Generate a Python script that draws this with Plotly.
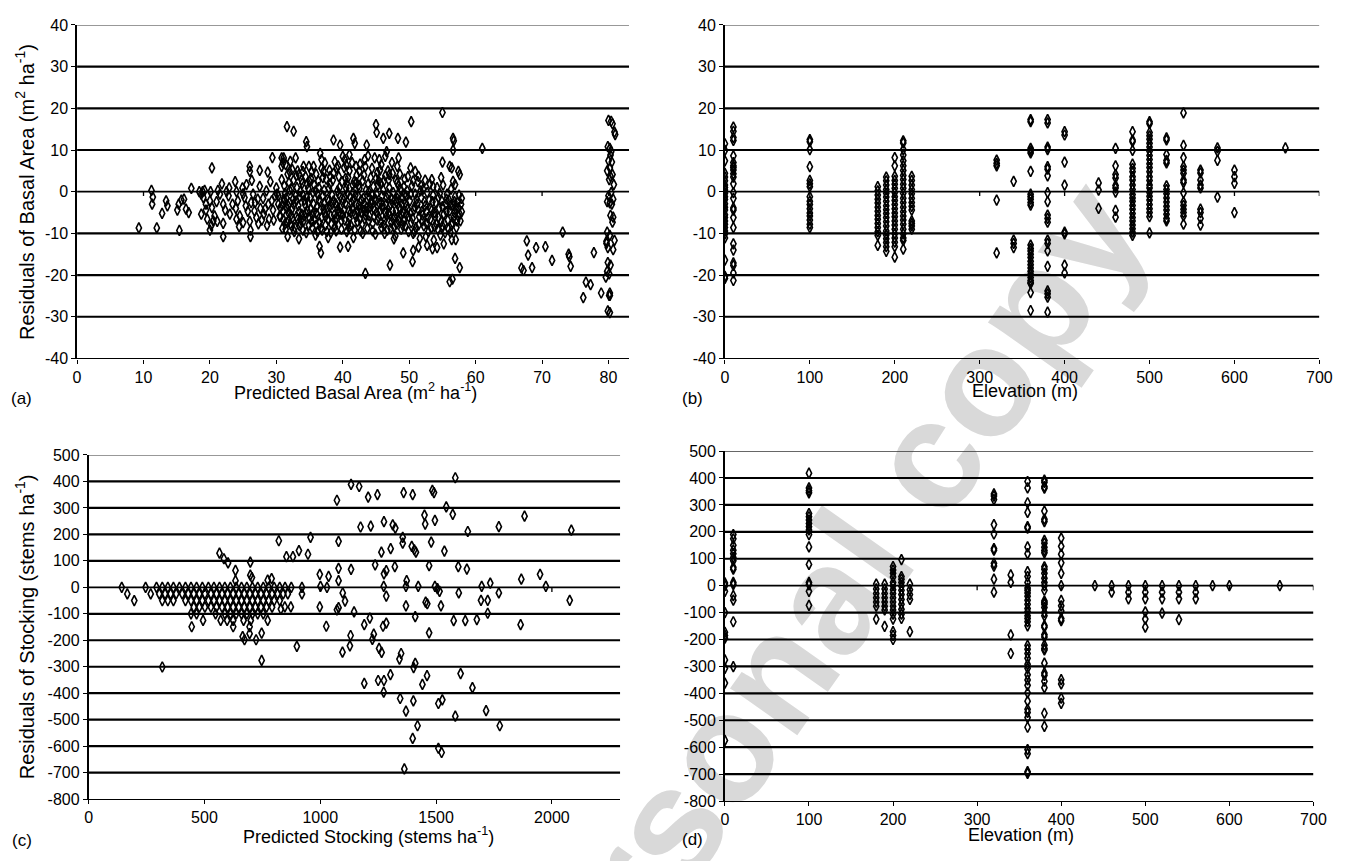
import math
import plotly.graph_objects as go

W, H = 1363, 861

# ---------------- Panel (a): predicted basal area vs residual ----------------
a_points = [
    (9.3,-8.7),(11.2,0.3),(11.4,-1.3),(11.3,-3.0),(12.0,-8.7),(12.8,-5.2),(13.4,-2.2),(13.6,-3.4),
    (15.1,-4.4),(15.3,-3.0),(15.7,-2.0),(16.1,-1.8),(16.4,-4.2),(16.8,-5.0),(15.4,-9.3),(17.2,0.8),
    (18.4,0.0),(18.7,-0.6),(19.0,-1.4),(19.4,-3.0),(18.7,-5.4),(19.4,-4.4),(20.0,-2.2),(20.1,0.0),
    (20.3,-3.8),(20.7,-5.8),(21.0,-2.4),(21.2,0.3),(21.5,-0.6),(21.8,1.9),(22.0,-3.0),(22.3,-4.4),
    (22.5,0.0),(22.8,-1.0),(22.9,0.9),(21.1,-7.1),(20.5,-7.0),(20.2,-8.1),(20.0,-9.2),(19.6,-6.6),
    (22.0,-7.6),(22.0,-10.8),(20.3,5.7),(18.9,0.0),(19.2,0.3),
    (23.8,2.4),(24.0,0.0),(24.2,-2.2),(23.9,-4.0),(24.5,-5.8),(24.4,-8.4),(24.9,0.9),(25.2,-1.4),
    (25.4,-3.4),(25.7,-4.7),(26.0,-7.1),(26.1,-9.2),(26.1,-10.8),(26.3,2.7),(26.5,-0.6),(26.8,-2.6),
    (27.0,-6.2),(27.3,-7.7),(27.5,1.3),(27.6,-4.0),(28.0,-1.6),(28.1,-5.4),(28.5,0.2),(28.8,-3.0),
    (28.9,-6.6),(29.1,2.4),(29.5,-4.4),(29.8,-1.0),(30.0,0.9),(30.3,-3.0),(30.5,-5.8),(30.8,2.9),
    (31.1,-1.8),(31.3,-7.7),(31.6,-4.0),
    (26.0,6.1),(26.0,4.9),(27.5,5.1),(28.7,4.7),(29.4,8.2),(30.8,8.1),(30.8,6.1),(31.0,6.9),
    (25.0,-0.5),(25.5,1.7),(26.2,-2.6),(26.7,-4.6),(27.2,-1.8),(27.8,-6.8),(28.3,-4.2),(28.6,-8.1),
    (29.3,-2.2),(29.6,-6.8),(30.1,-0.6),(30.6,-3.8),(25.0,-7.4),(24.0,-6.6),(23.4,-3.0),(23.0,-5.4),
    (30.9,-3.2),(31.1,-6.8),(31.2,1.4),(31.4,-9.0),(31.5,-1.5),(31.7,4.2),(31.8,-5.0),(32.0,-2.6),
    (32.1,-7.8),(32.3,0.6),(32.4,-4.0),(32.6,2.8),(32.7,-9.6),(32.9,-1.0),(33.0,-6.0),(33.2,5.0),
    (33.3,-3.4),(33.5,-8.2),(33.6,0.0),(33.8,-5.4),(33.9,2.0),(34.1,-7.0),(34.2,-2.0),(34.4,3.6),
    (34.5,-9.8),(34.7,-4.6),(34.8,0.8),(35.0,-6.4),(35.1,-1.4),(35.3,4.8),(35.4,-8.6),(35.6,-3.0),
    (35.7,1.6),(35.9,-10.4),(36.0,-5.2),(36.2,-0.6),(36.3,2.6),(36.5,-7.4),(36.6,-2.4),(36.8,5.6),
    (36.9,-9.2),(37.1,-4.2),(37.2,0.4),(37.4,-6.0),(37.5,3.0),(37.7,-1.8),(37.8,-11.0),(38.0,-3.6),
    (38.1,1.8),(38.3,-7.8),(38.4,-0.8),(38.6,4.4),(38.7,-5.6),(38.9,-2.8),(39.0,-9.4),(39.2,0.2),
    (39.3,6.2),(39.5,-4.8),(39.6,-1.2),(39.8,-7.0),(39.9,2.4),
    (31.0,-4.6),(31.3,-0.4),(31.6,-7.4),(31.9,2.2),(32.2,-5.6),(32.5,-1.8),(32.8,-8.6),(33.1,1.0),
    (33.4,-4.8),(33.7,-6.8),(34.0,-0.8),(34.3,-3.0),(34.6,1.8),(34.9,-8.0),(35.2,-4.2),(35.5,-0.2),
    (35.8,-6.6),(36.1,-3.6),(36.4,1.0),(36.7,-8.8),(37.0,-1.0),(37.3,-5.0),(37.6,-9.6),(37.9,-2.2),
    (38.2,-5.8),(38.5,2.8),(38.8,-8.4),(39.1,-3.4),(39.4,-0.6),(39.7,-5.4),
    (31.2,-2.0),(31.8,-3.4),(32.4,-6.4),(33.0,-2.2),(33.6,-7.6),(34.2,-5.8),(34.8,-2.6),(35.4,-5.6),
    (36.0,-8.0),(36.6,-4.4),(37.2,-2.8),(37.8,-6.6),(38.4,-3.0),(39.0,-6.2),(39.6,-3.8),
    (40.1,-2.0),(40.3,-6.8),(40.4,3.2),(40.6,-9.6),(40.7,-0.4),(40.9,-4.6),(41.0,5.0),(41.2,-8.0),
    (41.3,-2.6),(41.5,1.6),(41.6,-11.0),(41.8,-5.4),(41.9,-0.8),(42.1,4.0),(42.2,-7.2),(42.4,-3.2),
    (42.5,0.8),(42.7,-9.4),(42.8,-5.0),(43.0,2.6),(43.1,-1.6),(43.3,-6.6),(43.4,6.0),(43.6,-3.8),
    (43.7,-8.8),(43.9,0.0),(44.0,-5.8),(44.2,3.4),(44.3,-2.2),(44.5,-7.6),(44.6,1.2),(44.8,-4.4),
    (44.9,-10.2),(45.1,-0.6),(45.2,4.6),(45.4,-6.2),(45.5,-2.8),(45.7,2.0),(45.8,-8.6),(46.0,-4.0),
    (46.1,0.4),(46.3,-6.8),(46.4,3.8),(46.6,-1.4),(46.7,-9.2),(46.9,-5.2),(47.0,1.0),(47.2,-3.0),
    (47.3,-7.4),(47.5,4.4),(47.6,-0.2),(47.8,-5.8),(47.9,-10.6),(48.1,-2.4),(48.2,2.2),(48.4,-7.0),
    (48.5,-3.8),(48.7,0.6),(48.8,-9.0),(49.0,-1.6),(49.1,-5.0),(49.3,3.0),(49.4,-8.2),(49.6,-3.4),
    (49.7,0.2),(49.9,-6.0),
    (40.2,-4.4),(40.5,0.8),(40.8,-7.6),(41.1,-1.2),(41.4,-4.0),(41.7,2.4),(42.0,-6.0),(42.3,-1.0),
    (42.6,-4.2),(42.9,-7.8),(43.2,-2.8),(43.5,-4.8),(43.8,1.8),(44.1,-3.6),(44.4,-0.8),(44.7,-6.0),
    (45.0,-2.0),(45.3,1.6),(45.6,-4.6),(45.9,-1.0),(46.2,-8.0),(46.5,-3.0),(46.8,-0.6),(47.1,-5.6),
    (47.4,-1.8),(47.7,-8.4),(48.0,-4.6),(48.3,-0.6),(48.6,-6.2),(48.9,-3.0),(49.2,-7.0),(49.5,-1.0),
    (49.8,-4.2),
    (40.4,-2.8),(41.0,-6.4),(41.6,-2.0),(42.2,-4.8),(42.8,-2.0),(43.4,-5.6),(44.0,-1.4),(44.6,-4.0),
    (45.2,-6.8),(45.8,-2.6),(46.4,-5.0),(47.0,-3.6),(47.6,-6.6),(48.2,-1.6),(48.8,-5.4),(49.4,-2.6),
    (50.1,-2.2),(50.3,-7.4),(50.4,1.4),(50.6,-10.0),(50.7,-4.4),(50.9,-0.6),(51.0,-8.6),(51.2,-3.0),
    (51.3,2.4),(51.5,-6.0),(51.6,-11.2),(51.8,-1.4),(51.9,-4.8),(52.1,0.6),(52.2,-8.2),(52.4,-3.4),
    (52.5,-10.8),(52.7,-0.2),(52.8,-6.2),(53.0,-2.0),(53.1,1.8),(53.3,-8.8),(53.4,-4.4),(53.6,-0.8),
    (53.7,-11.6),(53.9,-6.0),(54.0,-2.6),(54.2,1.0),(54.3,-9.0),(54.5,-4.0),(54.6,-0.4),(54.8,-7.2),
    (54.9,-2.2),(55.1,1.6),(55.2,-5.4),(55.4,-9.8),(55.5,-3.0),(55.7,-0.6),(55.8,-6.8),(56.0,-2.0),
    (56.1,-4.6),(56.3,0.6),(56.4,-8.0),(56.6,-3.4),(56.7,-6.2),(56.9,-1.2),(57.0,-4.0),(57.2,-7.0),
    (57.3,-2.6),(57.5,-0.8),(57.6,-5.4),(57.8,-3.0),(57.9,-1.6),
    (50.2,-5.2),(50.8,-3.6),(51.4,-8.0),(52.0,-5.6),(52.6,-7.6),(53.2,-4.0),(53.8,-8.4),(54.4,-6.2),
    (55.0,-8.2),(55.6,-4.8),(56.2,-9.8),(56.8,-5.0),(57.4,-6.0),
    (30.3,-1.0),(30.6,-6.0),(30.9,-8.8),(31.5,-3.8),(32.0,0.4),(32.3,-8.2),(32.6,-3.0),(33.2,-6.6),
    (33.5,-1.2),(33.8,2.8),(34.0,-9.2),(34.4,-5.0),(34.6,-1.4),(35.0,2.4),(35.3,-7.2),(35.6,-5.0),
    (35.9,0.2),(36.2,-9.6),(36.4,-2.0),(36.8,-6.2),(37.0,3.4),(37.4,-8.0),(37.6,-4.0),(37.9,0.8),
    (38.2,-9.8),(38.6,-2.2),(38.9,-7.0),(39.2,-4.4),(39.5,1.0),(39.8,-9.0),(40.0,-5.6),(40.3,-1.4),
    (40.6,2.0),(40.9,-8.6),(41.2,-5.0),(41.5,-0.2),(41.8,-9.2),(42.0,-3.0),(42.4,1.6),(42.6,-6.6),
    (43.0,-10.0),(43.2,-4.4),(43.5,0.4),(43.9,-7.0),(44.2,-2.6),(44.5,-9.4),(44.8,-1.6),(45.1,-5.0),
    (45.4,2.6),(45.7,-7.4),(46.0,-3.2),(46.3,-10.0),(46.6,-5.8),(46.9,2.8),(47.2,-8.8),(47.5,-4.6),
    (47.8,-2.0),(48.1,-7.8),(48.4,1.4),(48.7,-4.2),(49.0,-8.0),(49.3,-0.6),(49.6,-5.4),(49.9,-9.6),
    (50.2,-0.6),(50.5,-6.4),(50.8,-9.6),(51.1,-1.8),(51.4,-4.4),(51.7,0.2),(52.0,-7.0),(52.3,-2.4),
    (52.6,-4.8),(52.9,-9.6),(53.2,-6.6),(53.5,-2.4),(53.8,-5.0),(54.1,-7.8),(54.4,-1.4),(54.7,-10.4),
    (55.0,-3.6),(55.3,-7.6),(55.6,-1.8),(55.9,-9.0),(56.2,-3.2),(56.5,-7.4),(56.8,-2.4),(57.1,-8.6),
    (57.4,-3.8),(57.7,-7.0),(57.9,-4.8),
    (38.0,5.2),(38.8,7.2),(39.4,3.6),(40.2,5.8),(40.8,3.4),(41.4,7.0),(42.0,2.2),(42.6,6.6),
    (43.2,4.0),(43.8,8.6),(44.4,5.6),(45.0,3.2),(45.6,5.2),(46.2,2.6),(46.8,5.0),(47.4,7.0),
    (48.0,2.8),(48.6,4.2),(49.2,1.2),(49.8,3.6),(50.6,2.6),(51.8,1.4),(52.4,2.8),(53.6,1.2),
    (54.8,3.4),(35.2,3.2),(36.0,4.2),(34.0,4.8),(33.0,3.8),(32.0,4.8),
    (31.6,15.6),(32.6,14.5),(34.5,12.0),(34.6,10.8),(38.6,12.4),(39.6,11.2),(41.6,12.8),(41.8,11.6),
    (43.6,11.2),(45.0,16.1),(45.1,14.2),(46.1,12.8),(47.0,14.0),(48.3,12.8),(49.5,11.9),(50.3,16.8),
    (55.0,19.0),(56.6,12.8),(56.7,12.2),(56.6,10.0),(61.0,10.4),
    (31.7,-10.8),(33.4,-11.3),(36.5,-13.1),(36.7,-14.7),(39.6,-13.3),(40.8,-13.1),(43.4,-19.6),
    (47.1,-17.6),(47.7,-11.3),(49.1,-14.7),(50.5,-16.8),(50.6,-14.1),(51.4,-13.3),(52.7,-12.9),
    (53.5,-13.7),(54.2,-13.4),(55.2,-12.5),(56.4,-11.5),(57.0,-11.5),(56.9,-16.0),(57.6,-18.2),
    (56.1,-21.6),(56.5,-21.0),
    (31.1,8.1),(31.4,6.5),(32.1,7.3),(32.9,8.1),(32.4,5.3),(33.4,4.1),(34.1,6.1),(34.9,6.1),
    (35.6,6.1),(36.6,9.2),(36.8,7.7),(37.3,6.9),(37.1,4.9),(38.1,3.7),(39.1,5.7),(40.0,8.5),
    (40.3,7.7),(40.5,6.5),(41.0,8.9),(42.0,6.1),(42.5,4.9),(43.3,7.7),(44.8,8.1),(45.5,7.7),
    (46.4,8.5),(45.8,6.5),(46.6,9.6),(47.0,4.1),(48.2,6.1),(48.4,8.1),(50.2,5.7),(50.9,4.9),
    (51.4,3.7),(53.4,2.9),(55.0,7.1),(56.1,6.1),(56.4,5.7),(57.4,4.9),(57.6,4.1),(56.6,2.5),(56.9,1.7),
    (67.7,-11.8),(67.9,-15.2),(69.1,-13.4),(70.5,-13.2),(66.9,-18.3),(67.2,-18.9),(68.5,-18.2),
    (71.5,-16.5),(73.1,-9.7),(74.0,-15.0),(74.1,-15.6),(74.3,-17.9),(77.8,-14.6),(76.6,-21.7),
    (77.3,-22.3),(76.2,-25.4),(78.9,-24.3),(80.1,-24.9),(80.2,-24.3),(79.7,-11.9),
    (80.0,17.1),(80.4,16.9),(80.6,16.3),(80.9,14.3),(81.0,13.7),(79.9,10.8),(80.2,10.4),(80.4,9.6),
    (80.3,8.8),(80.0,7.4),(80.5,7.1),(80.2,5.7),(79.8,5.0),(80.6,4.1),(80.3,3.7),(80.1,2.9),
    (80.8,1.7),(80.4,-0.2),(80.0,-1.0),(80.7,-1.8),(79.8,-2.4),(80.2,-2.7),(80.5,-3.0),(80.3,-5.7),
    (80.7,-6.1),(80.6,-7.3),(79.8,-9.7),(80.2,-10.5),(80.9,-11.7),(79.7,-12.4),(79.9,-13.4),
    (80.7,-13.9),(79.9,-17.0),(80.3,-17.6),(79.8,-19.1),(80.1,-19.7),(79.6,-20.5),(80.2,-24.9),
    (79.9,-28.6),(80.2,-29.0),
]

# ---------------- Panel (b): elevation vs basal-area residual ----------------
b_elevation = [0, 10, 100, 180, 190, 200, 210, 220, 320, 340, 360, 380, 400, 440, 460,
               480, 500, 520, 540, 560, 580, 600, 660]
b_residuals = [
    [11.5, 9.9, 7.4, 4.4, 3.5, 2.6, 1.6, 1.0, 0.4, -0.4, -1.2, -1.9, -2.9, -3.7, -4.4, -5.5,
     -6.2, -7.0, -7.8, -8.6, -9.4, -10.1, -11.1, -16.4, -20.3, -20.8],
    [15.5, 14.5, 13.0, 12.3, 8.6, 7.0, 6.2, 5.8, 5.2, 4.3, 3.5, 1.9, -0.2, -1.6, -3.9, -4.4,
     -6.2, -8.6, -12.5, -14.0, -17.1, -17.7, -19.5, -21.3],
    [12.5, 12.0, 10.1, 6.0, 2.7, 1.9, 1.2, -1.2, -2.3, -3.1, -4.1, -5.1, -5.8, -6.8, -7.8, -8.6],
    [1.2, 0.2, -0.8, -1.8, -2.7, -3.7, -4.7, -5.7, -6.6, -7.6, -8.6, -9.6, -10.5, -12.9],
    [3.5, 2.6, 1.6, 0.5, -0.4, -1.3, -2.3, -3.4, -4.3, -5.2, -6.2, -7.2, -8.2, -9.4, -10.4,
     -11.3, -12.2, -13.2, -14.3],
    [8.2, 6.2, 3.7, 2.7, 1.8, 0.8, -0.2, -1.2, -2.1, -3.1, -4.1, -5.1, -6.0, -7.0, -8.0, -9.0,
     -10.1, -11.1, -12.1, -13.2, -15.7],
    [12.2, 11.7, 10.1, 8.8, 7.4, 6.2, 5.1, 3.9, 2.9, 1.8, 0.8, -0.4, -1.6, -2.6, -3.7, -4.8,
     -5.8, -6.8, -7.8, -9.0, -10.1, -11.1, -11.7, -13.8],
    [3.7, 2.7, 1.6, 0.5, -0.5, -1.6, -2.6, -3.5, -4.4, -7.0, -7.6, -8.2, -9.0],
    [7.6, 6.8, 6.2, -2.0, -14.7],
    [2.5, -11.6, -12.4, -13.4],
    [17.3, 16.8, 10.4, 9.8, 9.3, 4.9, -0.6, -1.2, -1.8, -2.6, -3.2, -12.8, -13.6, -14.2, -15.0,
     -15.8, -16.7, -17.5, -18.3, -19.1, -19.8, -20.6, -21.3, -21.8, -22.0, -24.2, -28.5],
    [17.3, 16.5, 10.7, 10.1, 6.0, 5.4, 3.8, -0.2, -2.4, -5.6, -6.4, -7.3, -11.6, -12.4, -14.2,
     -17.9, -23.8, -24.5, -25.3, -28.9],
    [14.4, 13.6, 7.1, 1.6, -9.7, -10.1, -17.6, -19.5],
    [2.1, 0.4, -4.0],
    [10.4, 6.2, 4.1, 3.3, 1.5, 0.9, -0.1, -4.5, -6.1],
    [14.4, 12.4, 12.0, 9.9, 6.6, 5.6, 4.8, 3.6, 2.8, 1.6, 0.5, -0.7, -1.5, -2.3, -3.3, -4.2,
     -5.2, -6.2, -7.0, -8.0, -8.9, -9.7, -10.5],
    [16.8, 16.3, 14.2, 13.4, 12.6, 11.6, 10.7, 9.7, 8.7, 7.7, 6.7, 5.8, 4.8, 3.6, 2.7, 1.6,
     0.9, -0.2, -1.1, -2.0, -3.1, -4.1, -5.0, -6.0, -9.9],
    [12.9, 12.4, 8.9, 7.5, 6.9, 1.4, 0.5, -0.5, -1.5, -2.5, -3.5, -4.4, -5.4, -6.4, -7.0],
    [18.9, 11.1, 8.2, 6.0, 5.2, 4.4, 2.8, 2.2, -0.3, -2.5, -3.3, -4.2, -5.0, -5.8, -7.8],
    [5.2, 4.5, 2.8, 1.6, 0.9, -4.2, -5.0, -6.4, -8.0],
    [10.5, 9.7, 7.5, -1.3],
    [5.2, 3.6, 2.0, -5.0],
    [10.5],
]

# ---------------- Panel (c): predicted stocking vs residual ----------------
c_points = [
    (143,0),(246,0),(293,0),(318,0),(342,0),(366,0),(392,0),(418,0),(442,0),(466,0),(491,0),
    (517,0),(541,0),(565,0),(588,0),(612,0),(637,0),(660,0),(683,0),(707,0),(730,0),(754,0),
    (777,0),(801,0),(825,0),(848,0),(875,0),(921,0),
    (167,-25),(268,-25),(305,-25),(330,-25),(354,-25),(378,-25),(404,-25),(430,-25),(454,-25),
    (478,-25),(502,-25),(528,-25),(552,-25),(576,-25),(600,-25),(624,-25),(648,-25),(672,-25),
    (696,-25),(720,-25),(744,-25),(768,-25),(792,-25),(816,-25),(840,-25),(860,-25),
    (197,-50),(318,-50),(342,-50),(366,-50),(418,-50),(442,-50),(466,-50),(491,-50),(517,-50),
    (541,-50),(565,-50),(588,-50),(612,-50),(637,-50),(660,-50),(683,-50),(707,-50),(730,-50),
    (754,-50),(777,-50),(801,-50),(825,-50),
    (454,-75),(478,-75),(502,-75),(528,-75),(552,-75),(576,-75),(600,-75),(624,-75),(648,-75),
    (672,-75),(696,-75),(720,-75),(744,-75),(768,-75),(792,-75),
    (442,-100),(466,-100),(548,-100),(588,-100),(612,-100),(637,-100),(660,-100),(683,-100),
    (707,-100),(730,-100),(754,-100),
    (494,-125),(570,-125),(598,-125),(624,-125),(669,-125),(700,-125),(773,-125),
    (445,-149),(624,-149),(695,-149),
    (634,25),(773,27),(790,33),
    (565,129),(584,108),(602,92),(634,64),(698,95),(698,46),(705,37),(821,176),(854,116),
    (882,116),(908,139),(830,-82),(847,-74),(873,-74),(921,-25),(695,-175),(747,-173),
    (665,-186),(673,-198),(723,-198),(747,-276),(318,-301),(899,-223),
    (1583,414),(1133,389),(1168,381),(1072,329),(1207,341),(1247,350),(1360,358),(1399,350),
    (1484,366),(1491,358),(1544,304),(1572,276),(1882,269),(1450,273),(1453,239),(1495,253),
    (1174,228),(1218,231),(1275,248),(1313,236),(1324,224),(1637,211),(1771,229),(2084,216),
    (1356,189),(958,189),(1356,167),(1395,155),(1406,142),(1413,133),(1479,171),(1536,137),
    (1079,174),(1264,133),(1304,146),(947,125),(1237,85),(1275,51),(1285,63),(1322,78),
    (1470,82),(1596,78),(1633,69),(998,49),(1036,41),(1079,72),(1133,68),(1079,25),(1373,25),
    (1868,31),(1949,49),(1734,16),(1001,4),(1029,0),(1274,4),(1370,4),(1423,4),(1495,4),
    (1697,4),(1974,4),(1097,-21),(1285,-33),(1515,-15),(1506,-5),(1598,-21),(1771,-21),
    (1107,-52),(998,-74),(1072,-85),(1079,-77),(1146,-93),(1370,-70),(1455,-56),(1462,-62),
    (1521,-70),(1694,-49),(1723,-49),(2077,-49),(1026,-147),(1190,-141),(1214,-116),
    (1271,-147),(1285,-135),(1410,-111),(1576,-126),(1626,-126),(1676,-122),(1723,-98),
    (1865,-141),(1470,-172),(1131,-182),(1128,-221),(1096,-245),(1231,-177),(1225,-197),
    (1254,-231),(1265,-246),(1349,-250),(1342,-271),(1410,-287),(1403,-303),(1190,-363),
    (1250,-352),(1275,-352),(1303,-330),(1441,-367),(1461,-334),(1606,-326),(1657,-379),
    (1274,-396),(1345,-420),(1402,-429),(1510,-439),(1527,-425),(1370,-468),(1716,-466),
    (1583,-487),(1775,-523),(1420,-523),(1399,-571),(1510,-608),(1524,-624),(1363,-686),
]

# ---------------- Panel (d): elevation vs stocking residual ----------------
d_elevation = [0, 10, 100, 180, 190, 200, 210, 220, 320, 340, 360, 380, 400, 440, 460,
               480, 500, 520, 540, 560, 580, 600, 660]
d_residuals = [
    [10, 0, -21, -100, -173, -185, -195, -276, -307, -362, -575],
    [190, 174, 150, 132, 119, 105, 93, 68, 61, 12, 4, -37, -54, -134, -301],
    [418, 363, 353, 345, 268, 256, 244, 231, 219, 207, 190, 144, 79, 12, 4, -21, -73],
    [6, -12, -29, -45, -61, -76, -124],
    [6, -12, -29, -45, -61, -76, -90, -151],
    [71, 58, 46, 32, 12, 0, -15, -29, -45, -61, -76, -90, -106, -124, -171, -185, -200],
    [97, 34, 24, 12, -2, -17, -33, -51, -69, -88, -106, -122],
    [6, -15, -33, -51, -171],
    [341, 333, 320, 227, 192, 138, 132, 83, 73, 24, -24],
    [40, 12, -183, -252],
    [387, 363, 308, 272, 219, 214, 144, 119, 52, 34, 12, -9, -17, -27, -39, -54, -69, -85,
     -97, -112, -122, -134, -149, -222, -236, -252, -270, -292, -307, -331, -350, -370, -398,
     -429, -459, -471, -490, -526, -609, -624, -691, -697],
    [392, 384, 368, 362, 277, 247, 238, 168, 158, 143, 131, 122, 70, 61, 46, 28, 12, 0, -17,
     -57, -63, -69, -81, -100, -112, -148, -154, -182, -191, -221, -233, -239, -288, -324,
     -333, -355, -379, -474, -523],
    [177, 146, 117, 85, 46, 0, -55, -75, -94, -122, -130, -349, -365, -418, -437],
    [0],
    [0, -24],
    [0, -24, -49],
    [0, -24, -49, -97, -124, -154],
    [0, -24, -49, -102],
    [0, -24, -49, -126],
    [0, -24, -49],
    [0],
    [0],
    [0],
]

# ---------------- ticks ----------------
a_xticks = [0, 10, 20, 30, 40, 50, 60, 70, 80]
ba_yticks = [-40, -30, -20, -10, 0, 10, 20, 30, 40]
elev_xticks = [0, 100, 200, 300, 400, 500, 600, 700]
c_xticks = [0, 500, 1000, 1500, 2000]
st_yticks = [-800, -700, -600, -500, -400, -300, -200, -100, 0, 100, 200, 300, 400, 500]

FONT = "Liberation Sans, Arial, sans-serif"


def cols_to_xy(cols, vals):
    xs, ys = [], []
    for c, v in zip(cols, vals):
        for r in v:
            xs.append(c)
            ys.append(r)
    return xs, ys


ax, ay = [p[0] for p in a_points], [p[1] for p in a_points]
bx, by = cols_to_xy(b_elevation, b_residuals)
cx, cy = [p[0] for p in c_points], [p[1] for p in c_points]
dx, dy = cols_to_xy(d_elevation, d_residuals)

marker = dict(symbol="diamond-tall-open", size=7.5, color="black", line=dict(color="black", width=1.6))

fig = go.Figure()
for x, y, xa, ya in [(ax, ay, "x", "y"), (bx, by, "x2", "y2"), (cx, cy, "x3", "y3"), (dx, dy, "x4", "y4")]:
    fig.add_trace(go.Scatter(x=x, y=y, mode="markers", marker=marker, xaxis=xa, yaxis=ya,
                             showlegend=False, hoverinfo="skip"))


def hx(p):
    return p / W


def vy(p):
    return 1 - p / H


def xaxis(dom, rng, ticks, anchor):
    return dict(domain=dom, range=rng, tickvals=ticks, ticktext=[str(t) for t in ticks],
                showgrid=False, zeroline=False, showline=True, linecolor="black", linewidth=1.3,
                ticks="outside", ticklen=4, tickwidth=1.3, tickcolor="black", anchor=anchor,
                tickfont=dict(family=FONT, size=16, color="black"), fixedrange=True)


def yaxis(dom, rng, ticks, anchor):
    return dict(domain=dom, range=rng, tickvals=ticks, ticktext=[str(t) for t in ticks],
                showgrid=False, zeroline=False, showline=True, linecolor="black", linewidth=1.6,
                ticks="outside", ticklen=4, tickwidth=1.3, tickcolor="black", anchor=anchor,
                tickfont=dict(family=FONT, size=16, color="black"), fixedrange=True)


A_DOM_X = [hx(74), hx(633)]
B_DOM_X = [hx(730), hx(1332)]
C_DOM_X = [hx(85.7), hx(624)]
D_DOM_X = [hx(730), hx(1326)]
AB_DOM_Y = [vy(357.5), vy(17.3)]
C_DOM_Y = [vy(807), vy(456)]
D_DOM_Y = [vy(809), vy(452)]

ranges = {
    "a": ([0, 83.1], [-40, 40]),
    "b": ([0, 700], [-40, 40]),
    "c": ([0, 2295], [-800, 500]),
    "d": ([0, 700], [-800, 500]),
}

shapes = []
# watermark (behind everything)
cxw, cyw, ang, half = 798, 628, 55, 420
dxw = half * math.cos(math.radians(ang))
dyw = half * math.sin(math.radians(ang))
shapes.append(dict(type="line", xref="paper", yref="paper", layer="below",
                   x0=hx(cxw - dxw), y0=vy(cyw + dyw), x1=hx(cxw + dxw), y1=vy(cyw - dyw),
                   line=dict(color="rgba(0,0,0,0)", width=0),
                   label=dict(text="<b>Personal copy</b>", textposition="middle", yanchor="middle",
                              font=dict(family=FONT, size=155, color="#d9d9d9"))))

for key, xr, yr, xt, yt in [("", ranges["a"][0], ranges["a"][1], a_xticks, ba_yticks),
                            ("2", ranges["b"][0], ranges["b"][1], elev_xticks, ba_yticks),
                            ("3", ranges["c"][0], ranges["c"][1], c_xticks, st_yticks),
                            ("4", ranges["d"][0], ranges["d"][1], elev_xticks, st_yticks)]:
    for v in yt:
        if v == yr[0]:
            continue
        w = 2.2
        col = "black"
        if v == yr[1]:
            w, col = 1.2, "#333333"
        elif v == 0:
            w = 1.8
        shapes.append(dict(type="line", xref="x" + key, yref="y" + key, layer="below",
                           x0=xr[0], x1=xr[1], y0=v, y1=v, line=dict(color=col, width=w)))
    # little crossing ticks on the zero line
    d = (yr[1] - yr[0]) * 4.5 / 340.0
    for t in xt:
        if t == 0:
            continue
        shapes.append(dict(type="line", xref="x" + key, yref="y" + key, layer="below",
                           x0=t, x1=t, y0=0, y1=-d, line=dict(color="black", width=1.3)))

ann = []


def text(x, y, s, size, angle=0):
    ann.append(dict(x=hx(x), y=vy(y), xref="paper", yref="paper", text=s, showarrow=False,
                    textangle=angle, xanchor="center", yanchor="middle",
                    font=dict(family=FONT, size=size, color="black")))


unit_ba = "(m<sup>2</sup> ha<sup>-1</sup>)"
unit_st = "(stems ha<sup>-1</sup>)"
text(21, 188, "Residuals of Basal Area " + unit_ba, 20, -90)
text(356, 391, "Predicted Basal Area " + unit_ba, 18)
text(18, 398, "(a)", 17)
text(697, 398, "(b)", 17)
text(1034, 391, "Elevation (m)", 18)
text(21, 631, "Residuals of Stocking " + unit_st, 20, -90)
text(369, 844, "Predicted Stocking " + unit_st, 18)
text(18, 849, "(c)", 17)
text(697, 848, "(d)", 17)
text(1030, 844, "Elevation (m)", 18)

fig.update_layout(
    width=W, height=H, margin=dict(l=0, r=0, t=0, b=0),
    paper_bgcolor="white", plot_bgcolor="rgba(0,0,0,0)",
    showlegend=False,
    xaxis=xaxis(A_DOM_X, ranges["a"][0], a_xticks, "y"),
    yaxis=yaxis(AB_DOM_Y, ranges["a"][1], ba_yticks, "x"),
    xaxis2=xaxis(B_DOM_X, ranges["b"][0], elev_xticks, "y2"),
    yaxis2=yaxis(AB_DOM_Y, ranges["b"][1], ba_yticks, "x2"),
    xaxis3=xaxis(C_DOM_X, ranges["c"][0], c_xticks, "y3"),
    yaxis3=yaxis(C_DOM_Y, ranges["c"][1], st_yticks, "x3"),
    xaxis4=xaxis(D_DOM_X, ranges["d"][0], elev_xticks, "y4"),
    yaxis4=yaxis(D_DOM_Y, ranges["d"][1], st_yticks, "x4"),
    shapes=shapes,
    annotations=ann,
    font=dict(family=FONT, color="black"),
)

fig.write_html("out.html")
